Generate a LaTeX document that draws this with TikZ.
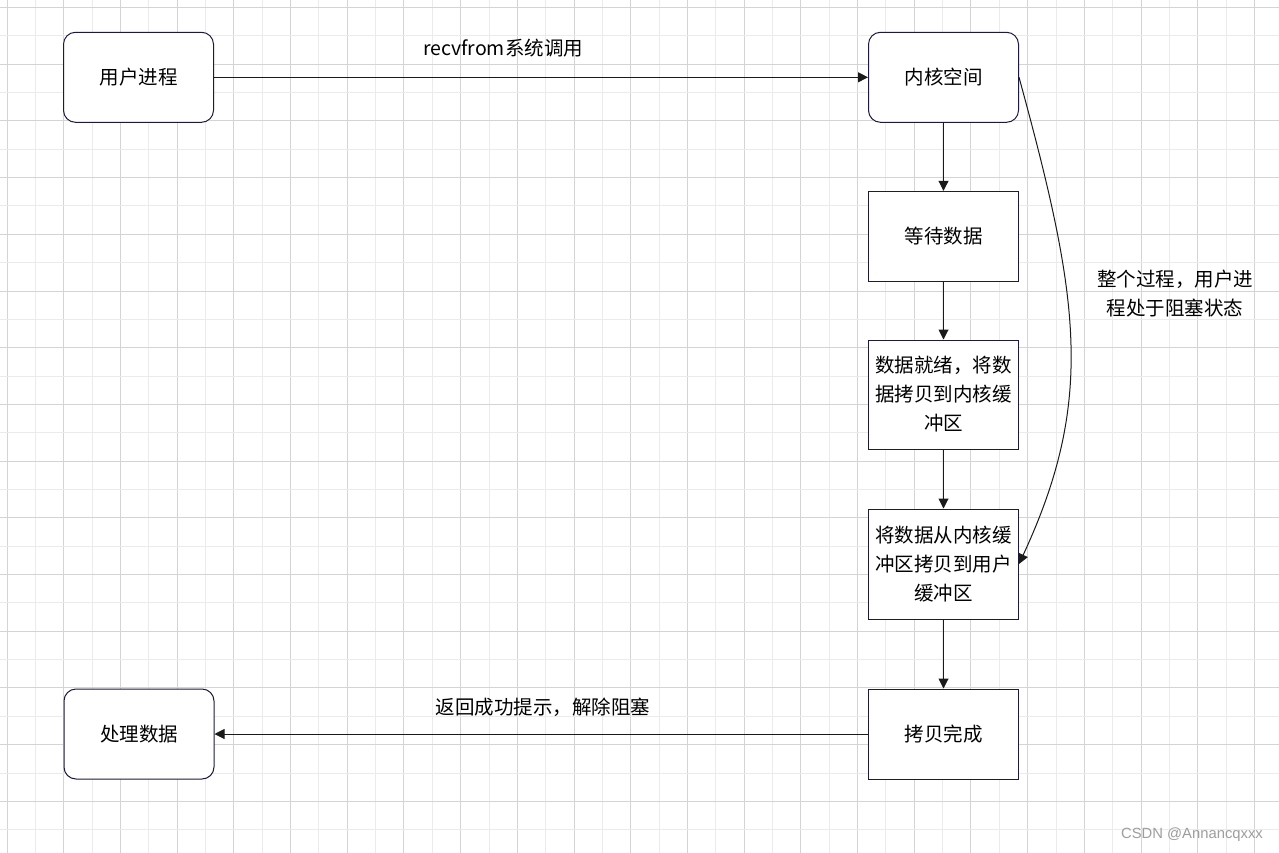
\documentclass[tikz,border=0pt]{standalone}
\usepackage{fontspec}
\setmainfont{Noto Sans CJK SC}
\newfontfamily\wmfont{Liberation Sans}
\usetikzlibrary{arrows.meta}
\definecolor{boxline}{HTML}{1B1B3F}
\definecolor{edgecol}{HTML}{1A1A1A}
\definecolor{gridA}{HTML}{D4D4D4}
\definecolor{gridB}{HTML}{EBEBEB}
\definecolor{wmgray}{HTML}{9E9E9E}
\tikzset{
  box/.style={draw=boxline, line width=1pt, fill=white, minimum width=150pt, inner sep=0pt, align=center, font=\fontsize{19.5}{29}\selectfont},
  rbox/.style={box, rounded corners=12pt},
  link/.style={draw=edgecol, line width=1pt, -{Triangle[length=10pt,width=10pt]}},
  lbl/.style={inner sep=0pt, align=center, text=black, font=\fontsize{19.5}{29}\selectfont}
}
\begin{document}
\begin{tikzpicture}[x=1pt,y=-1pt]
\useasboundingbox (0,0) rectangle (1279,853);
\fill[white] (0,0) rectangle (1279,853);
% grid
\foreach \k in {0,...,44} {
  \pgfmathsetmacro{\xx}{7+28.35*\k}
  \pgfmathtruncatemacro{\gpar}{mod(\k,2)}
  \ifnum\gpar=0 \draw[gridA, line width=0.9pt] (\xx,0) -- (\xx,853);
  \else \draw[gridB, line width=0.9pt] (\xx,0) -- (\xx,853); \fi
}
\foreach \k in {0,...,29} {
  \pgfmathsetmacro{\yy}{7.5+28.35*\k}
  \pgfmathtruncatemacro{\gpar}{mod(\k,2)}
  \ifnum\gpar=0 \draw[gridA, line width=0.9pt] (0,\yy) -- (1279,\yy);
  \else \draw[gridB, line width=0.9pt] (0,\yy) -- (1279,\yy); \fi
}
% nodes
\node[rbox, minimum height=90pt] (u) at (138.5,77.3) {用户进程};
\node[rbox, minimum height=90pt] (k) at (943.5,77.3) {内核空间};
\node[box, minimum height=90pt] (w) at (943.5,236.3) {等待数据};
\node[box, minimum height=109pt] (r) at (943.5,394.5) {数据就绪，将数\\据拷贝到内核缓\\冲区};
\node[box, minimum height=110pt] (c) at (943.5,564) {将数据从内核缓\\冲区拷贝到用户\\缓冲区};
\node[box, minimum height=90pt] (d) at (943.5,734) {拷贝完成};
\node[rbox, minimum height=90pt] (p) at (139,734) {处理数据};
% edges
\draw[link] (u) -- (k);
\draw[link] (k) -- (w);
\draw[link] (w) -- (r);
\draw[link] (r) -- (c);
\draw[link] (c) -- (d);
\draw[link] (d) -- (p);
\draw[link] (k.east) .. controls (1080,300) and (1095,400) .. (c.east);
% labels
\node[lbl] (l1) at (503,48) {recvfrom系统调用};
\node[lbl] (l2) at (543,707) {返回成功提示，解除阻塞};
\node[lbl] (l3) at (1175,293.5) {整个过程，用户进\\程处于阻塞状态};
\node[inner sep=0pt, text=wmgray, font=\wmfont\fontsize{14.8}{16}\selectfont] (wm) at (1192,835) {CSDN @Annancqxxx};
\end{tikzpicture}
\end{document}
